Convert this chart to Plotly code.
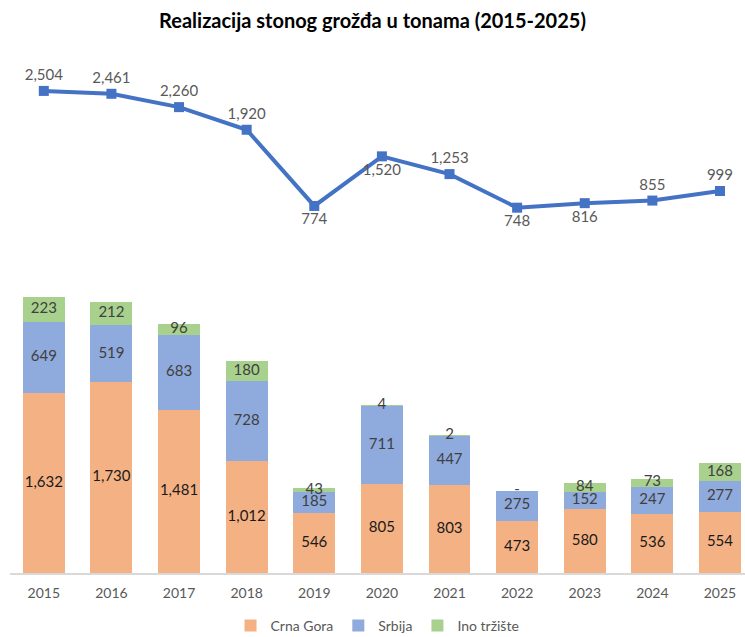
import plotly.graph_objects as go

years = ["2015", "2016", "2017", "2018", "2019", "2020", "2021", "2022", "2023", "2024", "2025"]
crna_gora = [1632, 1730, 1481, 1012, 546, 805, 803, 473, 580, 536, 554]
srbija = [649, 519, 683, 728, 185, 711, 447, 275, 152, 247, 277]
ino = [223, 212, 96, 180, 43, 4, 2, 0, 84, 73, 168]
ukupno = [2504, 2461, 2260, 1920, 774, 1520, 1253, 748, 816, 855, 999]
line_label_pos = ["top center", "top center", "top center", "top center", "bottom center",
                  "bottom center", "top center", "bottom center", "bottom center",
                  "top center", "top center"]

C_OR = "#F4B183"
C_BL = "#8FAADC"
C_GR = "#A9D18E"
C_LINE = "#4472C4"
FONT = "Lato"


def fmt(v):
    return "-" if v == 0 else f"{v:,}"


fig = go.Figure()
series = [("Crna Gora", crna_gora, C_OR, "#1a1a1a"),
          ("Srbija", srbija, C_BL, "#404040"),
          ("Ino tržište", ino, C_GR, "#404040")]
base = [0] * len(years)
for name, vals, col, tcol in series:
    fig.add_trace(go.Bar(x=years, y=vals, name=name, marker=dict(color=col, line=dict(width=0)),
                         width=0.62, hoverinfo="skip"))
    mids = [b + v / 2 for b, v in zip(base, vals)]
    fig.add_trace(go.Scatter(x=years, y=mids, mode="text", text=[fmt(v) for v in vals],
                             textfont=dict(family=FONT, size=15, color=tcol),
                             showlegend=False, hoverinfo="skip", cliponaxis=False))
    base = [b + v for b, v in zip(base, vals)]

fig.add_trace(go.Scatter(x=years, y=ukupno, yaxis="y2", mode="lines+markers+text",
                         line=dict(color=C_LINE, width=4),
                         marker=dict(symbol="square", size=10, color=C_LINE),
                         text=[f"{v:,}" for v in ukupno], textposition=line_label_pos,
                         textfont=dict(family=FONT, size=15, color="#595959"),
                         showlegend=False, hoverinfo="skip", cliponaxis=False))

fig.update_layout(
    width=745, height=637,
    margin=dict(l=10, r=0, t=60, b=64, autoexpand=False),
    paper_bgcolor="white", plot_bgcolor="white",
    barmode="stack",
    title=dict(text="<b>Realizacija stonog grožđa u tonama (2015-2025)</b>",
               x=0.5, xanchor="center", y=1 - 21 / 637, yanchor="middle", yref="container",
               font=dict(family=FONT, size=20, color="#000000")),
    xaxis=dict(type="category", range=[-0.5, 10.37], showline=True, linecolor="#D9D9D9",
               linewidth=1.5, ticks="", showgrid=False, automargin=False,
               ticklabelstandoff=6,
               tickfont=dict(family=FONT, size=14, color="#595959")),
    yaxis=dict(range=[0, 4655], visible=False, showgrid=False, zeroline=False),
    yaxis2=dict(range=[-4746, 2969], overlaying="y", visible=False, showgrid=False, zeroline=False),
    legend=dict(orientation="h", x=0.5, xanchor="center", yref="container",
                y=1 - 626 / 637, yanchor="middle",
                traceorder="normal", font=dict(family=FONT, size=14, color="#595959"),
                itemwidth=30),
    showlegend=True,
)

fig.write_html("out.html", config={"displayModeBar": False})
with open("out.html", encoding="utf-8") as f:
    html = f.read()
html = html.replace("<body>", '<body style="margin:0;padding:0;overflow:hidden">', 1)
with open("out.html", "w", encoding="utf-8") as f:
    f.write(html)
